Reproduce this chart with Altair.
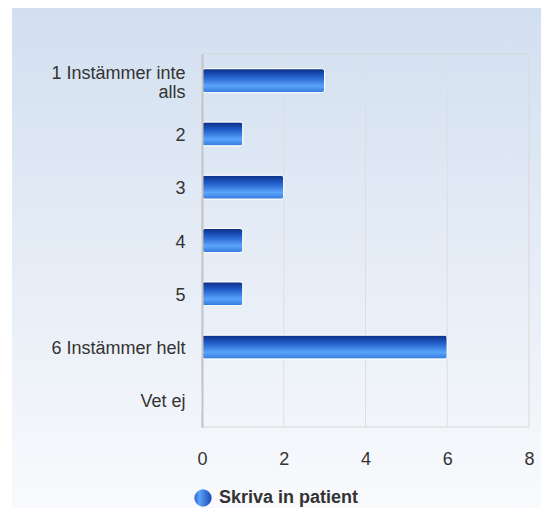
import altair as alt
import pandas as pd

categories = ["1 Instämmer inte alls", "2", "3", "4", "5", "6 Instämmer helt", "Vet ej"]
values = [3, 1, 2, 1, 1, 6, 0]
series_name = "Skriva in patient"
x_ticks = [0, 2, 4, 6, 8]
grid_ticks = [2, 4, 6]

df = pd.DataFrame({"cat": categories, "val": values})
one = pd.DataFrame({"series": [series_name]})
grid_df = pd.DataFrame({"val": grid_ticks})

W, H = 327, 373

bar_grad = alt.LinearGradient(
    gradient="linear", x1=0, y1=0, x2=0, y2=1,
    stops=[
        alt.GradientStop(color="#0a2d86", offset=0),
        alt.GradientStop(color="#2460cc", offset=0.35),
        alt.GradientStop(color="#5aa4fa", offset=0.72),
        alt.GradientStop(color="#3378dc", offset=1),
    ],
)
bg_grad = alt.LinearGradient(
    gradient="linear", x1=0, y1=0, x2=0, y2=1,
    stops=[
        alt.GradientStop(color="#d2dff0", offset=0),
        alt.GradientStop(color="#fafbfd", offset=1),
    ],
)
leg_grad = alt.LinearGradient(
    gradient="linear", x1=0, y1=0, x2=1, y2=0,
    stops=[
        alt.GradientStop(color="#2c66d4", offset=0),
        alt.GradientStop(color="#5aa2f6", offset=0.3),
        alt.GradientStop(color="#1a48b8", offset=1),
    ],
)

xscale = alt.Scale(domain=[0, 8])
x_axis = alt.Axis(values=x_ticks, labelFontSize=18, labelFont="Liberation Sans",
                  labelColor="#333333", labelPadding=23, ticks=False, domain=False,
                  grid=False, zindex=1, labelFlush=False)
x_enc = alt.X("val:Q", title=None, scale=xscale, axis=x_axis)

background = alt.Chart(one).mark_rect(fill=bg_grad, clip=False).encode(
    x=alt.value(-190), x2=alt.value(W + 30), y=alt.value(-49), y2=alt.value(H + 100)
)

frame = alt.Chart(one).mark_rect(fill=None, stroke="#d8d8d8", strokeWidth=1).encode(
    x=alt.value(0), x2=alt.value(W), y=alt.value(0), y2=alt.value(H)
)

grid = alt.Chart(grid_df).mark_rule(color="#dedede", strokeWidth=1).encode(x=x_enc)

label_expr = "datum.label == '1 Instämmer inte alls' ? ['1 Instämmer inte', 'alls'] : datum.label"

bars = alt.Chart(df).mark_bar(
    size=24, fill=bar_grad, stroke="white", strokeWidth=1, cornerRadius=3
).encode(
    y=alt.Y("cat:N", sort=categories, title=None,
            axis=alt.Axis(labelExpr=label_expr, labelFontSize=18, labelFont="Liberation Sans",
                          labelColor="#333333", labelPadding=17, ticks=False,
                          domainColor="#c4c4c4", domainWidth=2, labelLineHeight=19,
                          labelLimit=300, grid=False, zindex=1,
                          labelOffset={"condition": {"test": "datum.value == '1 Instämmer inte alls'", "value": -7},
                                       "value": 2})),
    x=x_enc,
)

leg_dot = alt.Chart(one).mark_point(
    shape="circle", filled=True, fill=leg_grad, size=300, opacity=1, clip=False
).encode(x=alt.value(1), y=alt.value(H + 71))

leg_text = alt.Chart(one).mark_text(
    align="left", baseline="middle", fontSize=18, fontWeight="bold",
    font="Liberation Sans", color="#333333", clip=False
).encode(x=alt.value(17), y=alt.value(H + 71), text="series:N")

chart = alt.layer(background, frame, grid, bars, leg_dot, leg_text).properties(
    width=W, height=H,
    autosize=alt.AutoSizeParams(type="none"),
    padding={"left": 194, "top": 46, "right": 12, "bottom": 81},
    background="white",
).configure_view(stroke=None)

chart.save("out.html", embed_options={"renderer": "svg", "actions": False})
